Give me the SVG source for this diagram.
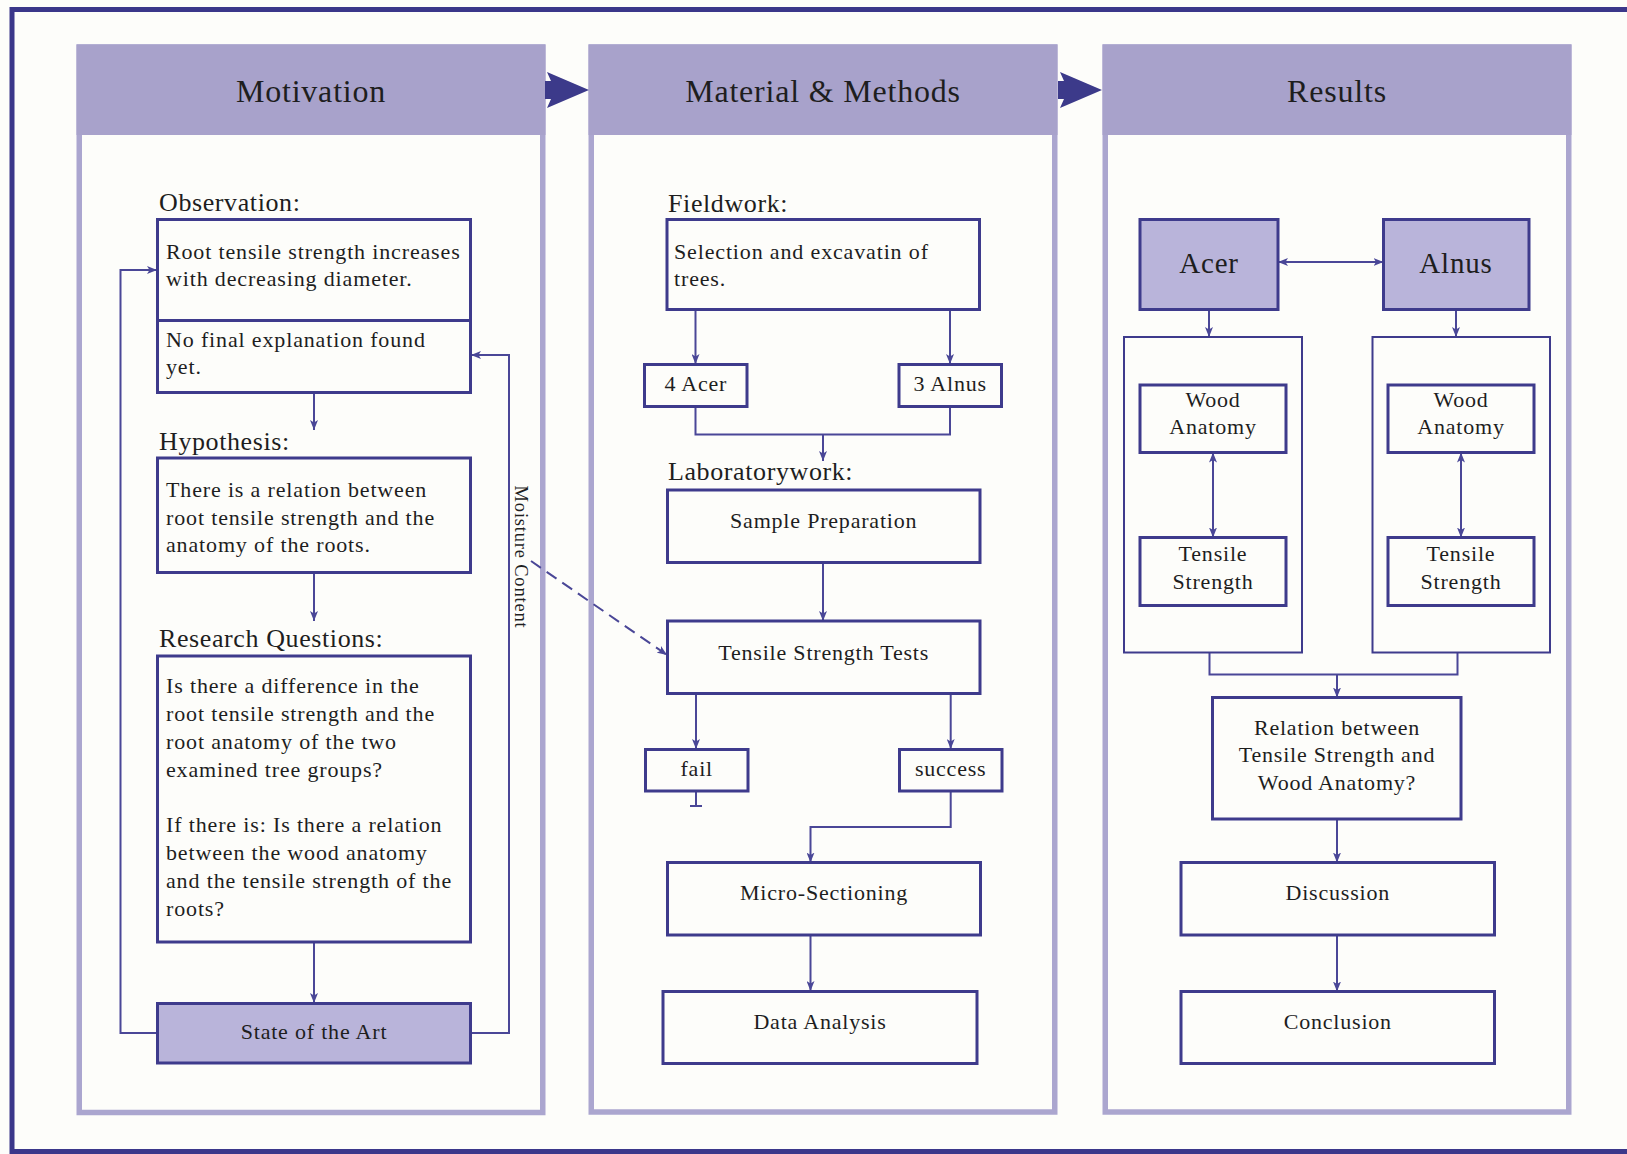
<svg xmlns="http://www.w3.org/2000/svg" width="1627" height="1154" viewBox="0 0 1627 1154">
<defs>
<style>
.bg{fill:#fdfdfa}
.panel{fill:#fdfdfa;stroke:#aba6cf;stroke-width:5.5}
.hdr{fill:#a8a2cb}
.box{fill:#fdfdfa;stroke:#3e3b8c;stroke-width:3}
.fbox{fill:#b9b4da;stroke:#3e3b8c;stroke-width:3}
.cont{fill:none;stroke:#3e3b8c;stroke-width:2}
.c{fill:none;stroke:#4a4797;stroke-width:2}
.big{fill:#3c3a8a}
text{font-family:"Liberation Serif","Times New Roman",serif;fill:#1e1e1e}
.h{font-size:32px;letter-spacing:0.8px;text-anchor:middle}
.l{font-size:26px;letter-spacing:0.6px}
.t{font-size:22px;letter-spacing:0.85px}
.tm{font-size:22px;letter-spacing:0.8px;text-anchor:middle}
.tb{font-size:29px;letter-spacing:0.8px;text-anchor:middle}
.mc{font-size:18.5px;letter-spacing:0.8px;text-anchor:middle}
</style>
<marker id="ah" viewBox="0 0 10 8" refX="10" refY="4" markerWidth="10" markerHeight="8" markerUnits="userSpaceOnUse" orient="auto-start-reverse">
<path d="M0,0 L10,4 L0,8 L2.5,4 Z" fill="#4a4797"/>
</marker>
</defs>
<rect class="bg" x="0" y="0" width="1627" height="1154"/>
<rect x="12" y="9.5" width="1640" height="1142" fill="none" stroke="#3b378a" stroke-width="5"/>

<g id="panel-motivation">
<rect class="panel" x="79.25" y="47" width="463.5" height="1065.5"/>
<rect class="hdr" x="76.5" y="44.5" width="469" height="90.5"/>
<text class="h" x="311" y="102">Motivation</text>
</g>
<g id="panel-methods">
<rect class="panel" x="591.25" y="47" width="463.5" height="1065"/>
<rect class="hdr" x="588.5" y="44.5" width="469" height="90.5"/>
<text class="h" x="823" y="102">Material &amp; Methods</text>
</g>
<g id="panel-results">
<rect class="panel" x="1105.25" y="47" width="463.5" height="1065"/>
<rect class="hdr" x="1102.5" y="44.5" width="469" height="90.5"/>
<text class="h" x="1337" y="102">Results</text>
</g>

<g id="stage-arrows">
<path class="big" d="M545,81 L551,81 L547,72 L589,90 L547,108 L551,99 L545,99 Z"/>
<path class="big" d="M1058,81 L1064,81 L1060,72 L1102,90 L1060,108 L1064,99 L1058,99 Z"/>
</g>

<g id="connectors">
<path class="c" d="M314,392.5 V430" marker-end="url(#ah)"/>
<path class="c" d="M314,572.5 V621" marker-end="url(#ah)"/>
<path class="c" d="M314,942 V1003" marker-end="url(#ah)"/>
<path class="c" d="M157.5,1033 H120.5 V270 H157" marker-end="url(#ah)"/>
<path class="c" d="M470.5,1033 H509 V355 H471" marker-end="url(#ah)"/>
<path class="c" d="M531,561 L667,655" stroke-dasharray="12,7" marker-end="url(#ah)"/>

<path class="c" d="M695.5,309.5 V364" marker-end="url(#ah)"/>
<path class="c" d="M950,309.5 V364" marker-end="url(#ah)"/>
<path class="c" d="M695.5,406.5 V434.5 H950 V406.5"/>
<path class="c" d="M823,434.5 V461" marker-end="url(#ah)"/>
<path class="c" d="M823,562.5 V621" marker-end="url(#ah)"/>
<path class="c" d="M696,693.5 V749" marker-end="url(#ah)"/>
<path class="c" d="M950.7,693.5 V749" marker-end="url(#ah)"/>
<path class="c" d="M696,791 V806 M690,806 H702"/>
<path class="c" d="M950.7,791 V827 H810.5 V862.5" marker-end="url(#ah)"/>
<path class="c" d="M810.5,935 V991" marker-end="url(#ah)"/>

<path class="c" d="M1278,262 H1383.5" marker-start="url(#ah)" marker-end="url(#ah)"/>
<path class="c" d="M1209,309.5 V337" marker-end="url(#ah)"/>
<path class="c" d="M1456,309.5 V337" marker-end="url(#ah)"/>
<path class="c" d="M1213,452.5 V537.5" marker-start="url(#ah)" marker-end="url(#ah)"/>
<path class="c" d="M1461,452.5 V537.5" marker-start="url(#ah)" marker-end="url(#ah)"/>
<path class="c" d="M1209.5,652.5 V674.5 H1457.5 V652.5"/>
<path class="c" d="M1337,674.5 V697.5" marker-end="url(#ah)"/>
<path class="c" d="M1337,819 V862.5" marker-end="url(#ah)"/>
<path class="c" d="M1337,935 V991.5" marker-end="url(#ah)"/>
<text class="mc" x="515" y="557" transform="rotate(90 515 557)">Moisture Content</text>
</g>

<g id="observation">
<text class="l" x="159" y="211">Observation:</text>
<rect class="box" x="157.5" y="219.5" width="313" height="173"/>
<line x1="157.5" y1="320.5" x2="470.5" y2="320.5" stroke="#3e3b8c" stroke-width="3"/>
<text class="t" x="166" y="259">Root tensile strength increases</text>
<text class="t" x="166" y="286">with decreasing diameter.</text>
<text class="t" x="166" y="347">No final explanation found</text>
<text class="t" x="166" y="374">yet.</text>
</g>
<g id="hypothesis">
<text class="l" x="159" y="450">Hypothesis:</text>
<rect class="box" x="157.5" y="458" width="313" height="114.5"/>
<text class="t" x="166" y="497">There is a relation between</text>
<text class="t" x="166" y="524.5">root tensile strength and the</text>
<text class="t" x="166" y="552">anatomy of the roots.</text>
</g>
<g id="research-questions">
<text class="l" x="159" y="647">Research Questions:</text>
<rect class="box" x="157.5" y="656" width="313" height="286"/>
<text class="t" x="166" y="693">Is there a difference in the</text>
<text class="t" x="166" y="721">root tensile strength and the</text>
<text class="t" x="166" y="749">root anatomy of the two</text>
<text class="t" x="166" y="777">examined tree groups?</text>
<text class="t" x="166" y="832">If there is: Is there a relation</text>
<text class="t" x="166" y="860">between the wood anatomy</text>
<text class="t" x="166" y="888">and the tensile strength of the</text>
<text class="t" x="166" y="916">roots?</text>
</g>
<g id="state-of-the-art">
<rect class="fbox" x="157.5" y="1003.5" width="313" height="59.5"/>
<text class="tm" x="314" y="1039">State of the Art</text>
</g>

<g id="fieldwork">
<text class="l" x="668" y="212">Fieldwork:</text>
<rect class="box" x="667" y="219.5" width="312.5" height="90"/>
<text class="t" x="674" y="258.5">Selection and excavatin of</text>
<text class="t" x="674" y="286">trees.</text>
</g>
<g id="acer-4">
<rect class="box" x="644.5" y="364.5" width="102.5" height="42"/>
<text class="tm" x="695.8" y="391">4 Acer</text>
</g>
<g id="alnus-3">
<rect class="box" x="899" y="364.5" width="102.5" height="42"/>
<text class="tm" x="950.2" y="391">3 Alnus</text>
</g>
<g id="sample-preparation">
<text class="l" x="668" y="480">Laboratorywork:</text>
<rect class="box" x="667.5" y="490" width="312.5" height="72.5"/>
<text class="tm" x="823.7" y="528">Sample Preparation</text>
</g>
<g id="tensile-tests">
<rect class="box" x="667.5" y="621" width="312.5" height="72.5"/>
<text class="tm" x="823.7" y="660">Tensile Strength Tests</text>
</g>
<g id="fail">
<rect class="box" x="645.5" y="749.5" width="102.5" height="41.5"/>
<text class="tm" x="696.7" y="776">fail</text>
</g>
<g id="success">
<rect class="box" x="899.5" y="749.5" width="102.5" height="41.5"/>
<text class="tm" x="950.7" y="776">success</text>
</g>
<g id="micro-sectioning">
<rect class="box" x="667.5" y="862.5" width="313" height="72.5"/>
<text class="tm" x="824" y="900">Micro-Sectioning</text>
</g>
<g id="data-analysis">
<rect class="box" x="663" y="991.5" width="314" height="72"/>
<text class="tm" x="820" y="1029">Data Analysis</text>
</g>

<g id="acer">
<rect class="fbox" x="1140" y="219.5" width="138" height="90"/>
<text class="tb" x="1209" y="273">Acer</text>
</g>
<g id="alnus">
<rect class="fbox" x="1383.5" y="219.5" width="145.5" height="90"/>
<text class="tb" x="1456" y="273">Alnus</text>
</g>
<g id="acer-group">
<rect class="cont" x="1124" y="337" width="178" height="315.5"/>
</g>
<g id="alnus-group">
<rect class="cont" x="1372.5" y="337" width="177.5" height="315.5"/>
</g>
<g id="acer-wood-anatomy">
<rect class="box" x="1140" y="385" width="146" height="67.5"/>
<text class="tm" x="1213" y="407">Wood</text>
<text class="tm" x="1213" y="433.5">Anatomy</text>
</g>
<g id="alnus-wood-anatomy">
<rect class="box" x="1388" y="385" width="146" height="67.5"/>
<text class="tm" x="1461" y="407">Wood</text>
<text class="tm" x="1461" y="433.5">Anatomy</text>
</g>
<g id="acer-tensile-strength">
<rect class="box" x="1140" y="537.5" width="146" height="68"/>
<text class="tm" x="1213" y="561">Tensile</text>
<text class="tm" x="1213" y="588.5">Strength</text>
</g>
<g id="alnus-tensile-strength">
<rect class="box" x="1388" y="537.5" width="146" height="68"/>
<text class="tm" x="1461" y="561">Tensile</text>
<text class="tm" x="1461" y="588.5">Strength</text>
</g>
<g id="relation">
<rect class="box" x="1212.5" y="697.5" width="248.5" height="121.5"/>
<text class="tm" x="1337" y="734.5">Relation between</text>
<text class="tm" x="1337" y="762">Tensile Strength and</text>
<text class="tm" x="1337" y="789.5">Wood Anatomy?</text>
</g>
<g id="discussion">
<rect class="box" x="1181" y="862.5" width="313.5" height="72.5"/>
<text class="tm" x="1337.8" y="900">Discussion</text>
</g>
<g id="conclusion">
<rect class="box" x="1181" y="991.5" width="313.5" height="72"/>
<text class="tm" x="1337.8" y="1029">Conclusion</text>
</g>
</svg>
